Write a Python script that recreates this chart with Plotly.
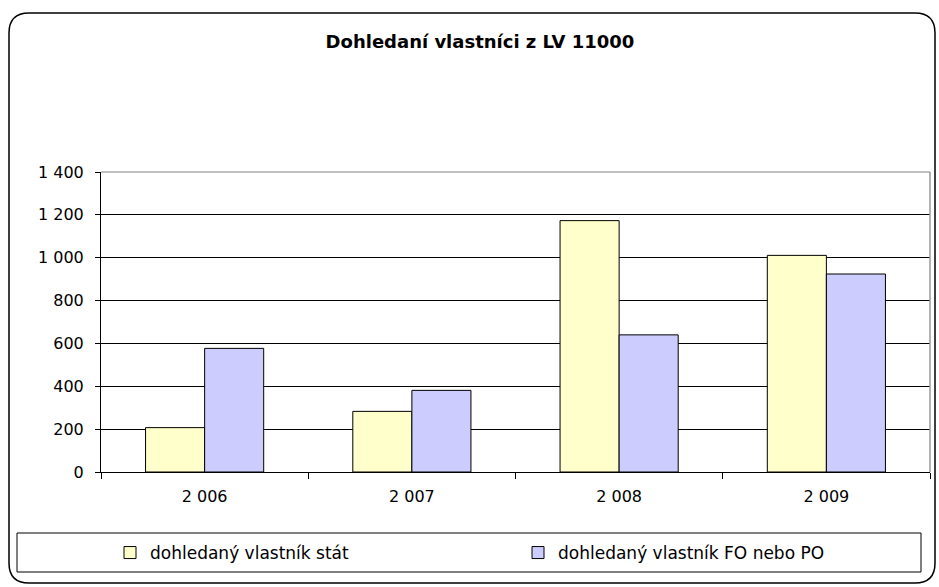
import plotly.graph_objects as go

# data
years = ["2 006", "2 007", "2 008", "2 009"]
stat = [207, 283, 1173, 1011]
fo_po = [577, 381, 640, 924]
names = ["dohledaný vlastník stát", "dohledaný vlastník FO nebo PO"]
colors = ["#FFFFCC", "#CCCCFF"]

W, H = 939, 587
L, R, T, B = 101, 9, 172, 115
pw, ph = W - L - R, H - T - B


def px(x):
    return (x - L) / pw


def py(y):
    return (H - B - y) / ph


def rounded(x0, y0, x1, y1, r):
    # path in paper coords from pixel box
    return (f"M {px(x0 + r)},{py(y0)} L {px(x1 - r)},{py(y0)} "
            f"Q {px(x1)},{py(y0)} {px(x1)},{py(y0 + r)} "
            f"L {px(x1)},{py(y1 - r)} Q {px(x1)},{py(y1)} {px(x1 - r)},{py(y1)} "
            f"L {px(x0 + r)},{py(y1)} Q {px(x0)},{py(y1)} {px(x0)},{py(y1 - r)} "
            f"L {px(x0)},{py(y0 + r)} Q {px(x0)},{py(y0)} {px(x0 + r)},{py(y0)} Z")


fig = go.Figure()
for i, (n, vals, c) in enumerate(zip(names, [stat, fo_po], colors)):
    fig.add_trace(go.Bar(x=years, y=vals, name=n, legend="legend" if i == 0 else "legend2",
                         marker=dict(color=c, line=dict(color="black", width=1))))

leg = dict(orientation="h", yanchor="middle", y=py(553), xanchor="left",
           font=dict(size=17), bgcolor="rgba(0,0,0,0)", borderwidth=0)

fig.update_layout(
    width=W, height=H,
    margin=dict(l=L, r=R, t=T, b=B),
    paper_bgcolor="white", plot_bgcolor="white",
    font=dict(family="DejaVu Sans", size=16, color="black"),
    separators=", ",
    barmode="group", bargap=0.43, bargroupgap=0,
    title=dict(text="<b>Dohledaní vlastníci z LV 11000</b>", x=480 / W, xanchor="center",
               y=1 - 42 / H, yanchor="middle", font=dict(size=18)),
    showlegend=True,
    legend=dict(leg, x=px(110)),
    legend2=dict(leg, x=px(518)),
    shapes=[
        dict(type="path", xref="paper", yref="paper", path=rounded(9, 13, 935, 583, 20),
             line=dict(color="black", width=1.5)),
        dict(type="rect", xref="paper", yref="paper", x0=px(17), x1=px(921),
             y0=py(533), y1=py(572), line=dict(color="black", width=1)),
        dict(type="line", xref="paper", yref="paper", x0=1, x1=1, y0=0, y1=1,
             line=dict(color="#999999", width=1.5)),
        dict(type="line", xref="paper", yref="paper", x0=0, x1=1, y0=1, y1=1,
             line=dict(color="#808080", width=1)),
    ],
)
fig.update_yaxes(range=[0, 1400], dtick=200, tickformat=",d", showgrid=True,
                 gridcolor="black", gridwidth=1, showline=True, linecolor="black",
                 linewidth=1, ticks="outside", ticklen=5, tickcolor="black",
                 ticklabelstandoff=8, zeroline=False, fixedrange=True)
fig.update_xaxes(showline=True, linecolor="black", linewidth=1, ticks="outside",
                 tickson="boundaries", ticklen=6, tickcolor="black",
                 ticklabelstandoff=10, fixedrange=True)

fig.write_html("out.html", config={"displayModeBar": False},
               post_script="document.body.style.margin='0';")
